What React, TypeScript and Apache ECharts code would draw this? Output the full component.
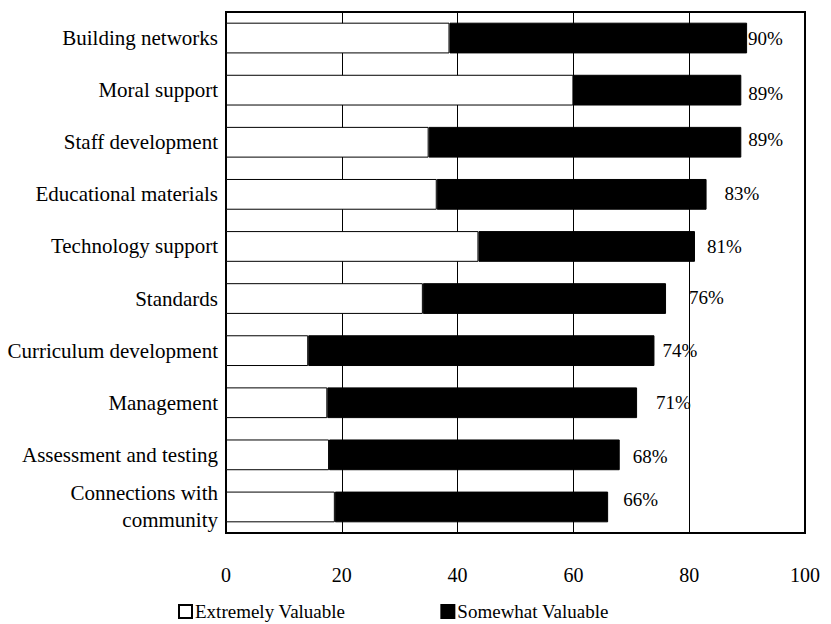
import React, { useEffect, useRef } from "react";
import * as echarts from "echarts";

// Survey items, top to bottom
const categories = [
  "Building networks",
  "Moral support",
  "Staff development",
  "Educational materials",
  "Technology support",
  "Standards",
  "Curriculum development",
  "Management",
  "Assessment and testing",
  "Connections with\ncommunity",
];

// Percent answering "Extremely Valuable"
const extremelyValuable = [38.6, 60, 35, 36.4, 43.6, 34, 14.2, 17.5, 17.8, 18.8];

// Combined percent (extremely + somewhat valuable), as printed beside each bar
const totalValuable = [90, 89, 89, 83, 81, 76, 74, 71, 68, 66];

// Percent answering "Somewhat Valuable" = total minus the extremely share
const somewhatValuable = totalValuable.map((t, i) => +(t - extremelyValuable[i]).toFixed(1));

const xTicks = [0, 20, 40, 60, 80, 100];

// Per-bar placement tweaks for the total labels: [gap to bar end, vertical shift]
const totalLabelOffsets: [number, number][] = [
  [1, 0],
  [7, 3],
  [7, -3],
  [18, -1],
  [12, 0],
  [23, -1],
  [8, 0],
  [19, 0],
  [13, 2],
  [15, -7],
];

const FONT = "'Liberation Serif', 'Times New Roman', Times, serif";

export default function App() {
  const ref = useRef<HTMLDivElement>(null);

  useEffect(() => {
    document.body.style.margin = "0";
    if (!ref.current) return;
    const chart = echarts.init(ref.current, null, { renderer: "svg" });

    chart.setOption({
      animation: false,
      backgroundColor: "#fff",
      textStyle: { fontFamily: FONT, color: "#000" },
      grid: {
        left: 226,
        top: 12,
        width: 579,
        height: 521,
        show: true,
        borderColor: "#000",
        borderWidth: 2,
        backgroundColor: "transparent",
      },
      legend: {
        left: 173,
        top: 597,
        itemWidth: 13,
        itemHeight: 13,
        itemGap: 95,
        icon: "rect",
        textStyle: { fontFamily: FONT, fontSize: 19, color: "#000", padding: [0, 0, 0, -2] },
        data: ["Extremely Valuable", "Somewhat Valuable"],
      },
      xAxis: {
        type: "value",
        min: xTicks[0],
        max: xTicks[xTicks.length - 1],
        interval: 20,
        axisLine: { show: true, lineStyle: { color: "#000", width: 2 } },
        axisTick: { show: false },
        splitLine: { show: true, lineStyle: { color: "#000", width: 1 } },
        axisLabel: {
          margin: 32,
          fontFamily: FONT,
          fontSize: 20,
          color: "#000",
        },
      },
      yAxis: {
        type: "category",
        inverse: true,
        data: categories,
        axisLine: { show: true, lineStyle: { color: "#000", width: 2 } },
        axisTick: { show: false },
        splitLine: { show: false },
        axisLabel: {
          margin: 8,
          fontFamily: FONT,
          fontSize: 21,
          lineHeight: 27,
          color: "#000",
          align: "right",
        },
      },
      series: [
        {
          name: "Extremely Valuable",
          type: "bar",
          stack: "total",
          barWidth: "59%",
          data: extremelyValuable,
          itemStyle: { color: "#fff", borderColor: "#000", borderWidth: 1 },
        },
        {
          name: "Somewhat Valuable",
          type: "bar",
          stack: "total",
          barWidth: "59%",
          data: somewhatValuable.map((v, i) => ({
            value: v,
            label: {
              distance: totalLabelOffsets[i][0],
              offset: [0, totalLabelOffsets[i][1]],
            },
          })),
          itemStyle: { color: "#000", borderColor: "#000", borderWidth: 1 },
          label: {
            show: true,
            position: "right",
            fontFamily: FONT,
            fontSize: 19,
            color: "#000",
            formatter: (p: any) => `${totalValuable[p.dataIndex]}%`,
          },
        },
      ],
    });

    return () => chart.dispose();
  }, []);

  return <div ref={ref} style={{ width: 831, height: 624 }} />;
}
